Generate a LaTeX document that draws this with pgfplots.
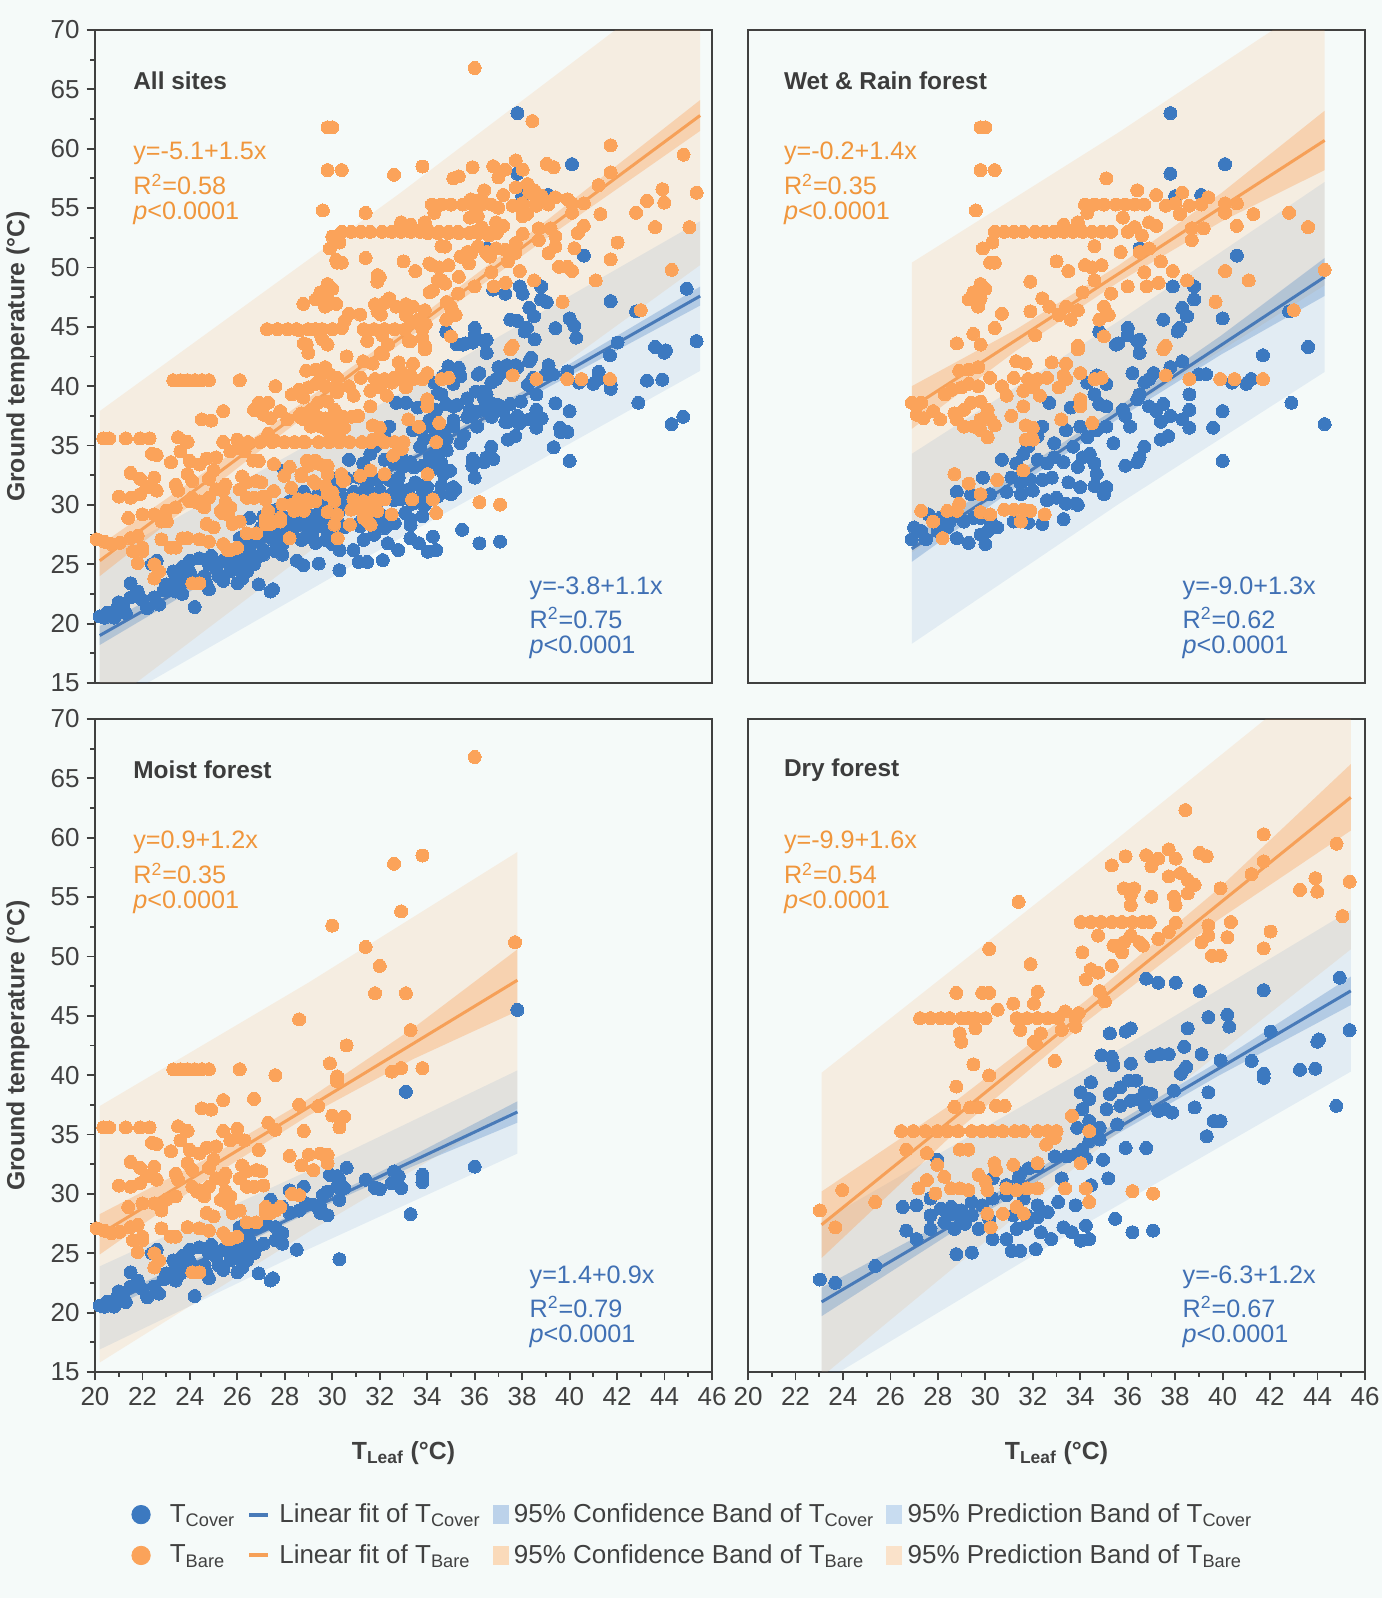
\documentclass[border=0pt]{standalone}
\usepackage{pgfplots}
\pgfplotsset{compat=1.18}
\usepackage{pgfplotstable}
\usepackage{fontspec}
\setmainfont{Liberation Sans}
\definecolor{bgc}{RGB}{245,250,249}
\definecolor{cblue}{RGB}{60,121,192}
\definecolor{corange}{RGB}{251,163,90}
\definecolor{lblue}{RGB}{72,122,184}
\definecolor{lorange}{RGB}{246,160,88}
\definecolor{tblue}{RGB}{64,112,180}
\definecolor{torange}{RGB}{240,150,60}
\definecolor{axc}{RGB}{64,64,64}
\definecolor{titc}{RGB}{60,60,60}
\definecolor{lgcb}{RGB}{188,210,234}
\definecolor{lgpb}{RGB}{200,220,240}
\definecolor{lgco}{RGB}{250,218,186}
\definecolor{lgpo}{RGB}{250,226,202}

% Moist forest, T_Bare
\pgfplotstableread{
x y
36.0 66.8
33.8 58.5
32.6 57.8
32.9 53.8
30.0 52.6
31.4 50.8
32.0 49.2
31.8 46.9
33.1 46.9
28.6 44.7
37.7 51.2
33.3 43.8
30.6 42.5
23.3 40.5
23.6 40.5
23.9 40.5
24.2 40.5
24.5 40.5
24.8 40.5
26.1 40.5
27.6 40.0
29.9 41.0
30.2 39.9
30.2 39.5
32.5 40.3
32.9 40.6
33.8 40.6
25.4 37.9
26.7 38.0
24.5 37.2
24.9 37.1
28.6 37.5
29.4 37.4
30.0 36.6
30.5 36.5
30.3 35.6
20.35 35.6
20.6 35.6
21.3 35.6
21.9 35.6
22.3 35.6
23.5 35.7
23.9 35.3
25.4 35.3
26.0 35.5
27.3 36.0
27.6 35.4
28.8 35.3
22.4 34.3
22.6 34.2
23.2 33.6
23.6 34.5
24.0 33.7
24.4 33.4
24.7 33.9
25.1 34.0
25.7 34.5
26.0 34.8
26.3 34.5
26.9 33.7
28.2 33.2
28.7 32.4
29.2 32.0
29.0 33.3
29.5 33.4
29.8 33.3
29.8 32.6
21.5 32.7
21.9 32.2
22.5 32.3
23.4 31.7
23.9 32.6
24.1 32.0
24.8 32.2
25.0 32.9
25.5 31.7
25.4 31.2
26.2 32.4
26.4 31.9
26.8 32.0
27.0 31.9
21.0 30.7
21.5 30.6
21.9 30.9
22.2 31.5
22.6 31.2
23.5 31.2
24.1 30.6
24.4 30.3
24.8 30.6
25.1 31.3
25.5 30.2
25.7 29.8
26.1 31.3
26.4 30.6
26.7 30.6
27.1 30.7
21.4 28.9
22.0 29.2
22.5 29.2
22.8 28.6
23.0 29.5
23.4 29.8
24.3 30.2
24.6 29.8
25.3 29.5
25.6 29.2
24.7 28.4
25.0 28.1
25.8 28.4
26.1 28.6
27.2 28.9
27.4 28.4
27.8 28.9
20.07 27.1
20.4 26.9
20.7 26.7
21.05 26.8
21.5 27.2
21.8 27.4
22.0 26.4
22.8 27.1
23.2 26.4
23.4 26.4
23.9 27.2
24.4 27.1
24.8 26.9
25.4 26.7
25.6 26.2
26.0 26.4
26.4 27.6
26.8 27.6
27.2 28.4
27.6 28.6
28.3 30.0
28.6 29.9
21.6 26.1
22.0 26.1
21.8 25.1
22.5 25.0
22.7 24.4
22.5 23.8
24.1 23.4
24.4 23.4
25.7 26.2
}\MO

% Moist forest, T_Cover
\pgfplotstableread{
x y
33.1 38.6
36.0 32.3
37.8 45.5
30.6 32.2
29.9 31.6
30.2 31.5
30.3 31.2
31.4 31.2
31.8 30.5
32.0 30.4
32.6 31.9
32.8 31.5
32.9 30.5
33.8 31.6
33.8 31.0
32.5 30.9
33.3 28.3
28.2 30.3
28.8 30.6
29.6 29.9
29.8 30.2
30.2 30.6
30.5 30.5
30.3 29.5
29.2 29.1
29.5 28.9
29.8 28.2
29.5 28.4
27.4 29.5
27.6 28.6
27.9 28.9
28.2 28.4
28.6 28.6
28.9 29.2
27.2 27.5
27.6 27.2
27.9 26.7
26.1 27.2
26.4 26.7
26.8 27.2
28.5 25.3
27.5 22.9
27.4 22.7
26.9 23.3
30.3 24.5
26.7 25.0
26.4 24.4
26.0 24.7
25.4 25.3
25.1 24.7
24.8 25.0
24.4 25.5
24.0 25.3
23.7 24.8
23.3 24.4
23.4 23.8
23.0 23.3
25.4 23.6
26.0 23.4
26.2 23.8
24.7 23.3
24.8 22.9
22.6 25.3
22.4 25.0
21.5 23.4
21.8 22.7
21.5 22.2
22.5 22.2
22.7 21.6
22.2 21.3
21.2 21.6
20.9 21.2
20.5 20.9
20.2 20.6
24.2 21.4
23.4 22.7
23.6 23.3
24.0 24.3
24.3 23.6
25.7 24.4
25.8 25.0
27.1 25.8
26.8 25.5
26.5 26.1
27.6 26.1
27.9 25.8
20.4 20.5
20.8 20.5
21.3 20.9
21.0 21.8
22.0 22.0
22.9 22.8
23.8 24.1
24.6 24.0
25.2 24.0
25.9 25.6
26.3 25.4
24.9 25.7
}\MB

% Wet and rain forest, T_Bare
\pgfplotstableread{
x y
29.8 61.8
30.0 61.8
29.8 58.2
30.4 58.2
29.6 54.8
35.1 57.5
36.4 56.5
37.2 56.1
38.3 56.3
34.2 55.3
34.6 55.3
35.0 55.3
35.5 55.3
35.9 55.3
36.3 55.3
36.7 55.3
37.6 55.2
38.0 55.4
38.6 55.2
39.1 55.3
39.4 55.9
34.3 54.6
40.1 55.4
40.6 55.4
40.1 54.6
41.3 54.5
42.8 54.6
43.6 53.4
38.2 54.5
30.4 53.0
30.8 53.0
31.2 53.0
31.6 53.0
32.1 53.0
32.5 53.0
32.9 53.0
33.3 53.0
33.7 53.0
34.1 53.0
34.5 53.0
34.9 53.0
35.3 53.0
33.3 53.6
33.9 53.8
30.3 52.1
29.9 51.6
35.8 54.2
36.3 53.4
36.0 53.0
36.6 52.7
36.9 53.8
37.2 53.5
38.7 53.3
39.2 53.3
38.7 52.3
40.6 53.5
34.6 51.8
35.7 51.3
36.5 51.3
36.9 51.6
30.2 50.4
30.4 50.4
33.0 50.5
33.5 49.7
34.2 50.2
34.5 50.0
34.9 50.2
36.7 49.6
37.4 50.5
37.9 49.7
38.5 48.9
40.1 49.7
41.1 48.9
31.9 48.8
34.6 48.9
29.8 48.6
30.0 48.2
29.5 47.9
29.8 47.8
29.3 47.3
29.6 47.3
29.8 47.4
29.7 46.7
34.1 47.9
35.3 47.8
36.0 48.4
36.8 48.4
37.3 48.7
32.4 47.4
32.7 46.7
33.4 46.7
33.9 46.4
33.1 46.0
31.9 46.3
30.7 46.1
35.0 46.7
35.2 46.0
34.8 45.6
33.6 45.6
39.7 47.1
30.4 44.9
29.5 44.4
28.8 43.6
29.8 43.5
32.1 44.3
35.0 44.2
33.9 43.4
37.6 43.4
43.0 46.4
44.3 49.8
32.8 42.0
33.4 41.9
33.9 43.1
37.5 43.1
31.3 42.1
31.7 41.9
28.9 41.3
29.3 41.4
29.7 41.6
30.2 40.7
31.2 40.7
31.8 40.6
32.2 40.6
32.6 40.7
33.3 40.9
34.0 41.1
34.6 40.6
34.9 40.7
37.6 40.9
38.6 40.6
39.9 40.6
40.5 40.6
41.7 40.6
26.9 38.6
27.3 38.6
28.3 39.3
28.6 39.7
29.0 39.9
29.3 40.2
29.7 40.0
30.7 40.0
30.9 39.2
31.6 39.6
32.0 39.9
32.3 39.2
33.1 39.9
33.4 40.6
27.1 37.6
27.4 37.3
27.8 37.9
28.1 37.2
28.7 37.7
29.1 38.0
29.4 38.6
29.8 38.7
30.1 38.0
28.8 37.2
29.1 36.6
29.5 36.6
29.8 37.2
30.2 37.2
30.4 36.7
29.8 36.3
30.1 35.7
31.1 37.5
31.6 38.3
31.7 36.7
33.2 37.2
34.0 38.3
34.0 38.9
34.5 36.9
31.7 35.5
32.0 35.5
32.0 36.5
28.7 32.6
29.3 31.8
29.8 30.9
30.5 32.1
31.6 32.9
27.3 29.5
27.8 28.6
28.2 27.2
28.4 29.5
28.9 30.1
28.8 29.5
29.8 29.4
30.2 29.2
30.8 29.6
31.2 29.6
31.6 29.6
31.9 29.5
31.5 28.6
32.5 29.2
}\WO

% Wet and rain forest, T_Cover
\pgfplotstableread{
x y
37.8 63.0
40.1 58.7
37.8 57.9
39.1 56.1
38.0 56.0
36.5 51.6
40.6 51.0
37.9 48.4
38.8 48.4
38.8 47.3
38.3 46.6
38.5 45.9
38.2 44.9
37.5 45.6
40.0 45.7
42.8 46.3
34.8 44.6
36.0 44.9
36.0 44.3
36.5 43.9
35.6 43.6
43.6 43.3
35.5 43.5
36.4 43.8
36.5 42.8
38.1 44.6
41.7 42.6
38.3 42.1
37.8 41.6
37.1 41.1
36.2 41.1
36.7 40.3
36.9 40.6
39.0 41.0
39.3 41.0
40.4 40.3
41.0 40.2
41.2 40.6
42.9 38.6
44.3 36.8
34.3 40.3
34.7 40.9
35.1 40.2
34.6 39.3
34.8 38.5
35.1 38.3
32.7 38.6
33.6 38.2
34.0 38.8
35.8 38.0
36.4 38.9
36.5 39.3
36.9 38.3
37.2 37.9
37.5 38.5
37.8 37.5
37.4 37.0
38.3 37.2
38.6 38.0
38.6 36.5
38.6 39.3
39.6 36.5
40.0 37.9
32.4 36.6
32.9 35.2
32.2 35.8
31.8 34.9
33.4 36.3
34.0 36.6
34.3 35.7
34.7 36.3
35.1 36.6
35.4 35.2
35.9 37.5
36.1 36.6
33.7 34.9
34.1 34.0
34.4 34.3
34.6 33.5
34.7 32.6
37.4 35.5
37.7 35.8
36.7 34.9
36.5 34.0
35.9 33.3
36.4 33.6
40.0 33.7
30.7 33.8
31.3 33.5
31.6 34.3
32.2 33.8
32.6 33.5
32.9 34.0
33.3 33.6
33.9 33.2
29.9 32.3
30.5 32.1
31.1 32.3
31.5 31.8
31.9 32.1
32.4 32.1
32.8 32.3
33.5 31.9
34.0 31.5
34.6 31.6
35.1 31.5
35.0 30.9
28.8 31.1
29.4 30.9
30.2 30.9
30.9 31.1
31.5 30.9
32.0 31.2
32.6 30.4
33.0 30.6
33.4 30.1
33.8 30.1
27.6 29.2
28.1 28.9
28.5 28.6
29.1 28.6
29.5 28.9
30.2 28.6
30.5 28.1
31.2 28.6
27.0 28.1
27.3 27.8
26.9 27.1
27.5 27.1
28.0 27.8
28.4 28.1
28.8 27.2
29.3 26.8
29.8 27.5
30.0 26.7
31.8 28.5
32.4 28.4
33.3 28.8
33.9 30.0
29.8 28.9
30.1 27.8
}\WB

% Dry forest, T_Bare
\pgfplotstableread{
x y
38.43 62.33
41.73 60.29
41.73 58.01
41.22 56.93
35.33 57.67
35.91 58.44
36.78 58.53
37.29 58.24
37.73 59.01
38.02 58.24
37.00 57.59
39.04 58.72
39.33 58.44
37.73 56.74
38.24 57.02
38.53 56.45
38.82 56.03
38.53 55.31
35.84 55.74
36.27 55.74
36.13 55.17
36.13 54.32
37.00 55.03
37.95 55.03
38.02 54.32
39.91 55.74
43.91 56.59
43.26 55.60
43.99 55.46
31.40 54.60
34.02 52.90
34.45 52.90
34.89 52.90
35.33 52.90
35.76 52.90
36.20 52.90
36.64 52.90
36.93 52.90
38.02 52.84
39.40 52.62
40.35 52.90
42.02 52.10
41.73 50.68
34.75 51.76
35.40 50.91
35.84 51.20
36.13 51.76
36.49 51.20
36.64 50.91
37.29 51.48
37.73 52.05
39.11 51.20
39.40 51.76
40.20 51.62
35.76 50.34
34.09 50.34
39.55 50.06
39.91 50.06
30.16 50.63
35.33 49.21
34.45 48.92
34.75 48.64
34.24 48.07
31.91 49.35
34.82 47.08
35.04 46.22
28.78 46.93
29.87 46.93
30.16 46.93
32.20 47.02
31.18 46.03
30.52 45.51
32.05 46.03
27.25 44.80
27.69 44.80
28.12 44.80
28.49 44.80
28.99 44.80
29.29 44.80
29.58 44.80
30.01 44.80
31.32 44.80
31.76 44.80
32.20 44.80
32.63 44.80
33.07 44.80
33.36 45.37
33.80 44.80
28.92 43.52
28.99 42.81
29.58 43.95
31.47 43.81
32.34 43.52
33.22 43.81
33.80 44.09
33.94 45.23
32.05 42.81
32.13 42.68
29.50 40.91
32.93 41.20
30.16 39.98
28.78 39.04
28.70 37.33
29.36 37.28
29.72 37.28
30.45 37.42
30.81 37.42
26.45 35.29
26.96 35.29
27.47 35.29
27.98 35.29
28.41 35.29
28.85 35.29
29.43 35.29
29.87 35.29
30.30 35.29
30.74 35.29
31.25 35.29
31.62 35.29
32.20 35.29
32.63 35.29
33.00 35.29
32.56 34.15
32.93 34.72
28.92 33.73
29.29 33.73
26.67 33.73
27.54 33.44
27.98 32.45
30.38 32.59
30.45 32.02
31.18 32.45
32.20 32.59
34.02 32.59
34.38 35.29
33.65 36.57
23.97 30.32
23.03 28.61
23.68 27.19
25.36 29.32
27.18 30.46
27.54 31.17
27.90 30.03
28.27 31.45
28.56 30.46
28.92 30.46
29.29 30.32
29.72 31.60
30.01 31.03
30.09 30.32
30.89 30.46
31.32 30.32
31.76 30.46
32.20 30.46
33.36 30.46
34.24 30.46
34.38 29.32
30.09 28.33
30.74 28.33
31.32 28.90
31.62 28.33
30.23 27.19
36.20 30.23
37.07 30.03
45.35 56.30
44.80 59.50
45.05 53.40
}\DO

% Dry forest, T_Cover
\pgfplotstableread{
x y
36.78 48.13
37.29 47.79
38.02 47.79
39.04 47.08
41.73 47.16
39.40 44.89
40.20 45.09
40.28 44.09
35.25 43.52
35.91 43.67
36.13 43.95
38.53 43.95
42.02 43.67
44.06 43.01
44.93 48.21
45.35 43.80
34.89 41.68
35.33 41.54
35.40 40.83
36.13 40.97
37.00 41.60
37.36 41.77
37.73 41.77
38.38 42.39
39.11 41.77
39.91 41.26
41.22 41.20
41.73 40.12
41.73 39.78
43.26 40.46
43.91 40.55
43.99 42.82
44.79 37.42
38.24 40.12
38.46 40.69
37.95 38.70
39.40 38.56
38.82 37.28
37.58 37.14
37.87 36.85
37.29 36.99
39.62 36.14
39.91 36.14
39.33 34.86
34.45 39.41
34.02 38.56
34.38 37.99
35.25 38.41
35.69 38.98
36.05 39.55
36.35 39.55
36.71 38.56
37.00 38.41
35.69 37.42
36.13 37.85
36.49 37.99
36.71 37.42
35.11 37.14
34.09 37.14
34.38 36.14
33.87 35.57
34.82 35.57
34.38 34.44
34.82 34.58
35.55 35.86
35.91 33.87
36.78 33.87
34.96 32.87
35.18 31.31
32.93 33.16
33.44 33.16
33.80 33.30
34.09 33.73
34.24 33.02
32.20 32.31
31.83 32.16
31.47 31.74
31.40 31.31
33.22 31.31
34.45 30.74
27.98 32.87
30.31 31.31
30.89 30.74
26.52 28.90
27.10 29.04
27.69 29.61
28.12 28.76
28.56 28.90
28.99 28.61
29.43 29.32
29.87 29.04
30.31 29.61
30.89 29.89
31.62 29.61
32.20 29.04
32.63 28.47
33.07 29.32
33.80 29.04
34.24 27.33
34.38 26.20
34.02 26.06
26.67 26.91
27.10 26.20
27.69 27.05
28.27 27.62
28.70 27.05
29.14 27.48
29.72 27.05
30.31 26.20
30.89 26.20
31.32 27.05
31.76 27.48
32.34 26.77
32.78 26.20
33.29 27.19
33.65 26.77
28.78 24.92
29.43 25.06
31.11 25.20
31.47 25.20
32.13 25.35
27.69 28.19
28.41 28.19
28.85 28.19
29.43 28.19
30.16 27.90
31.18 28.19
31.76 28.19
32.20 28.05
35.47 27.90
36.20 26.77
37.07 26.91
25.36 23.93
23.03 22.79
23.68 22.51
}\DB

\pgfplotsset{
  panel/.style={
    scale only axis, width=308.5pt, height=326.5pt,
    xmin=20, xmax=46, ymin=15, ymax=70,
    clip bounding box=upper bound,
    axis line style={draw=axc, line width=1pt},
    tick style={draw=axc, line width=0.9pt},
    tick align=outside, xtick pos=bottom, ytick pos=left,
    xtick={20,22,...,46}, ytick={15,20,...,70},
    minor x tick num=1, minor y tick num=1,
    major tick length=4.2pt, minor tick length=2.3pt,
    ticklabel style={font=\fontsize{13}{15}\selectfont, text=axc},
    /pgf/number format/assume math mode=true,
    every axis y label/.style={at={(axis description cs:-0.125,0.5)}, rotate=90, anchor=center},
    every axis x label/.style={at={(axis description cs:0.5,-0.124)}, anchor=center},
    label style={font=\bfseries\fontsize{12.4}{14}\selectfont, text=axc},
  },
  ptsB/.style={only marks, color=cblue, mark=*, mark size=3.25pt, mark options={fill=cblue, draw=cblue, line width=0pt}, forget plot},
  ptsO/.style={only marks, color=corange, mark=*, mark size=3.25pt, mark options={fill=corange, draw=corange, line width=0pt}, forget plot},
  predO/.style={draw=none, fill=corange, fill opacity=0.15, forget plot},
  confO/.style={draw=none, fill=corange, fill opacity=0.36, forget plot},
  predB/.style={draw=none, fill=cblue, fill opacity=0.10, forget plot},
  confB/.style={draw=none, fill=cblue, fill opacity=0.28, forget plot},
  fitO/.style={lorange, line width=1.5pt, forget plot},
  fitB/.style={lblue, line width=1.5pt, forget plot},
}
\newcommand{\paneltitle}[2]{\node[anchor=west, inner sep=0pt, font=\bfseries\fontsize{12.2}{14}\selectfont, text=titc] at (axis cs:#1,65.7) {#2};}
\newcommand{\eqO}[4]{%
  \node[anchor=west, inner sep=0pt, font=\fontsize{12.6}{14}\selectfont, text=torange] at (axis cs:#1,59.6) {#2};
  \node[anchor=west, inner sep=0pt, font=\fontsize{12.6}{14}\selectfont, text=torange] at (axis cs:#1,57.0) {R\textsuperscript{2}=#3};
  \node[anchor=west, inner sep=0pt, font=\fontsize{12.6}{14}\selectfont, text=torange] at (axis cs:#1,54.6) {\textit{p}<#4};}
\newcommand{\eqB}[4]{%
  \node[anchor=west, inner sep=0pt, font=\fontsize{12.6}{14}\selectfont, text=tblue] at (axis cs:#1,23.0) {#2};
  \node[anchor=west, inner sep=0pt, font=\fontsize{12.6}{14}\selectfont, text=tblue] at (axis cs:#1,20.5) {R\textsuperscript{2}=#3};
  \node[anchor=west, inner sep=0pt, font=\fontsize{12.6}{14}\selectfont, text=tblue] at (axis cs:#1,18.0) {\textit{p}<#4};}

\begin{document}
\begin{tikzpicture}
\useasboundingbox (0pt,0pt) rectangle (691pt,799pt);
\fill[bgc] (0pt,0pt) rectangle (691pt,799pt);

% ---------------- All sites ----------------
\begin{axis}[panel, at={(47.5pt,457.5pt)}, anchor=south west,
  xtick=\empty, ylabel={Ground temperature (°C)}]
\addplot[ptsB] table {\MB};
\addplot[ptsB] table {\WB};
\addplot[ptsB] table {\DB};
\addplot[ptsO] table {\MO};
\addplot[ptsO] table {\WO};
\addplot[ptsO] table {\DO};
\addplot[predO] coordinates {(20.2,12.7) (32.85,31.85) (45.5,50.2) (45.5,70) (41.93,70) (32.85,56.25) (20.2,37.9)} -- cycle;
\addplot[predB] coordinates {(20.2,15) (20.2,12.7) (32.85,27.19) (45.5,41.29) (45.5,53.89) (32.85,39.39) (20.2,25.3)} -- cycle;
\addplot[confO] coordinates {(20.2,24.0) (26.525,33.92) (32.85,43.55) (39.175,52.67) (45.5,61.5) (45.5,64.1) (39.175,54.17) (32.85,44.55) (26.525,35.42) (20.2,26.6)} -- cycle;
\addplot[confB] coordinates {(20.2,18.2) (26.525,25.7) (32.85,32.99) (39.175,39.99) (45.5,46.79) (45.5,48.39) (39.175,40.89) (32.85,33.59) (26.525,26.6) (20.2,19.8)} -- cycle;
\addplot[fitO] coordinates {(20.2,25.3) (45.5,62.8)};
\addplot[fitB] coordinates {(20.2,19.0) (45.5,47.59)};
\paneltitle{21.6}{All sites}
\eqO{21.6}{y=-5.1+1.5x}{0.58}{0.0001}
\eqB{38.3}{y=-3.8+1.1x}{0.75}{0.0001}
\end{axis}

% ---------------- Wet & Rain forest ----------------
\begin{axis}[panel, at={(374pt,457.5pt)}, anchor=south west,
  xtick=\empty, ytick=\empty]
\addplot[ptsB] table {\WB};
\addplot[ptsO] table {\WO};
\addplot[predO] coordinates {(26.9,26.0) (35.6,37.55) (44.3,48.5) (44.3,70) (42.12,70) (35.6,61.35) (26.9,50.4)} -- cycle;
\addplot[predB] coordinates {(26.9,18.3) (35.6,30.05) (44.3,41.2) (44.3,57.2) (35.6,45.45) (26.9,34.3)} -- cycle;
\addplot[confO] coordinates {(26.9,36.4) (31.25,42.92) (35.6,48.75) (39.95,53.87) (44.3,58.2) (44.3,63.2) (39.95,56.27) (35.6,50.15) (31.25,44.72) (26.9,40.0)} -- cycle;
\addplot[confB] coordinates {(26.9,25.2) (31.25,31.43) (35.6,37.25) (39.95,42.68) (44.3,47.6) (44.3,50.8) (39.95,44.28) (35.6,38.25) (31.25,32.63) (26.9,27.4)} -- cycle;
\addplot[fitO] coordinates {(26.9,38.2) (44.3,60.7)};
\addplot[fitB] coordinates {(26.9,26.3) (44.3,49.2)};
\paneltitle{21.5}{Wet \& Rain forest}
\eqO{21.5}{y=-0.2+1.4x}{0.35}{0.0001}
\eqB{38.3}{y=-9.0+1.3x}{0.62}{0.0001}
\end{axis}

% ---------------- Moist forest ----------------
\begin{axis}[panel, at={(47.5pt,113pt)}, anchor=south west,
  ylabel={Ground temperature (°C)}, xlabel={T\textsubscript{Leaf} (°C)}]
\addplot[ptsB] table {\MB};
\addplot[ptsO] table {\MO};
\addplot[predO] coordinates {(20.2,15.8) (29.0,26.8) (37.8,37.2) (37.8,58.8) (29.0,47.8) (20.2,37.4)} -- cycle;
\addplot[predB] coordinates {(20.2,16.9) (29.0,25.35) (37.8,33.4) (37.8,40.4) (29.0,31.95) (20.2,23.9)} -- cycle;
\addplot[confO] coordinates {(20.2,24.9) (24.6,31.05) (29.0,36.6) (33.4,41.35) (37.8,45.4) (37.8,50.6) (33.4,43.95) (29.0,38.0) (24.6,32.85) (20.2,28.3)} -- cycle;
\addplot[confB] coordinates {(20.2,19.9) (24.6,24.23) (29.0,28.4) (33.4,32.33) (37.8,36.0) (37.8,37.8) (33.4,33.23) (29.0,28.9) (24.6,24.83) (20.2,20.9)} -- cycle;
\addplot[fitO] coordinates {(20.2,26.6) (37.8,48.0)};
\addplot[fitB] coordinates {(20.2,20.4) (37.8,36.9)};
\paneltitle{21.6}{Moist forest}
\eqO{21.6}{y=0.9+1.2x}{0.35}{0.0001}
\eqB{38.3}{y=1.4+0.9x}{0.79}{0.0001}
\end{axis}

% ---------------- Dry forest ----------------
\begin{axis}[panel, at={(374pt,113pt)}, anchor=south west,
  ytick=\empty, xlabel={T\textsubscript{Leaf} (°C)}]
\addplot[ptsB] table {\DB};
\addplot[ptsO] table {\DO};
\addplot[predO] coordinates {(23.1,15) (23.1,14.6) (34.25,33.0) (45.4,50.6) (45.4,70) (41.81,70) (34.25,57.8) (23.1,40.2)} -- cycle;
\addplot[predB] coordinates {(23.1,15) (23.1,14.1) (34.25,27.5) (45.4,40.3) (45.4,53.9) (34.25,40.5) (23.1,27.7)} -- cycle;
\addplot[confO] coordinates {(23.1,24.6) (28.675,35.1) (34.25,44.5) (39.825,53.1) (45.4,60.6) (45.4,66.2) (39.825,55.7) (34.25,46.3) (28.675,37.7) (23.1,30.2)} -- cycle;
\addplot[confB] coordinates {(23.1,19.7) (28.675,26.85) (34.25,33.55) (39.825,39.95) (45.4,45.9) (45.4,48.3) (39.825,41.15) (34.25,34.45) (28.675,28.05) (23.1,22.1)} -- cycle;
\addplot[fitO] coordinates {(23.1,27.4) (45.4,63.4)};
\addplot[fitB] coordinates {(23.1,20.9) (45.4,47.1)};
\paneltitle{21.5}{Dry forest}
\eqO{21.5}{y=-9.9+1.6x}{0.54}{0.0001}
\eqB{38.3}{y=-6.3+1.2x}{0.67}{0.0001}
\end{axis}

% ---------------- Legend ----------------
\begin{axis}[at={(0pt,0pt)}, anchor=south west, scale only axis, width=691pt, height=799pt,
  hide axis, xmin=0, xmax=1, ymin=0, ymax=1, clip bounding box=upper bound,
  legend columns=4,
  legend style={at={(0.502,0.0394)}, anchor=center, draw=none, fill=none,
    font=\fontsize{13}{15}\selectfont, text=axc, row sep=5.5pt,
    /tikz/every even column/.append style={column sep=4pt}},
  legend cell align=left]
\addlegendimage{legend image code/.code={\path[draw=none] (0pt,0pt) -- (17pt,0pt); \fill[cblue] (4.6pt,0pt) circle (4.6pt);}}
\addlegendimage{legend image code/.code={\path[draw=none] (0pt,0pt) -- (13pt,0pt); \draw[lblue, line width=2pt] (0pt,0pt) -- (9.5pt,0pt);}}
\addlegendimage{legend image code/.code={\path[draw=none] (0pt,0pt) -- (8.5pt,0pt); \fill[lgcb] (0pt,-4.5pt) rectangle (7.5pt,4.5pt);}}
\addlegendimage{legend image code/.code={\path[draw=none] (0pt,0pt) -- (8.5pt,0pt); \fill[lgpb] (0pt,-4.5pt) rectangle (7.5pt,4.5pt);}}
\addlegendimage{legend image code/.code={\path[draw=none] (0pt,0pt) -- (17pt,0pt); \fill[corange] (4.6pt,0pt) circle (4.6pt);}}
\addlegendimage{legend image code/.code={\path[draw=none] (0pt,0pt) -- (13pt,0pt); \draw[lorange, line width=2pt] (0pt,0pt) -- (9.5pt,0pt);}}
\addlegendimage{legend image code/.code={\path[draw=none] (0pt,0pt) -- (8.5pt,0pt); \fill[lgco] (0pt,-4.5pt) rectangle (7.5pt,4.5pt);}}
\addlegendimage{legend image code/.code={\path[draw=none] (0pt,0pt) -- (8.5pt,0pt); \fill[lgpo] (0pt,-4.5pt) rectangle (7.5pt,4.5pt);}}
\legend{T\textsubscript{Cover}, Linear fit of T\textsubscript{Cover}, 95\% Confidence Band of T\textsubscript{Cover}, 95\% Prediction Band of T\textsubscript{Cover},
  T\textsubscript{Bare}, Linear fit of T\textsubscript{Bare}, 95\% Confidence Band of T\textsubscript{Bare}, 95\% Prediction Band of T\textsubscript{Bare}}
\end{axis}
\end{tikzpicture}
\end{document}
